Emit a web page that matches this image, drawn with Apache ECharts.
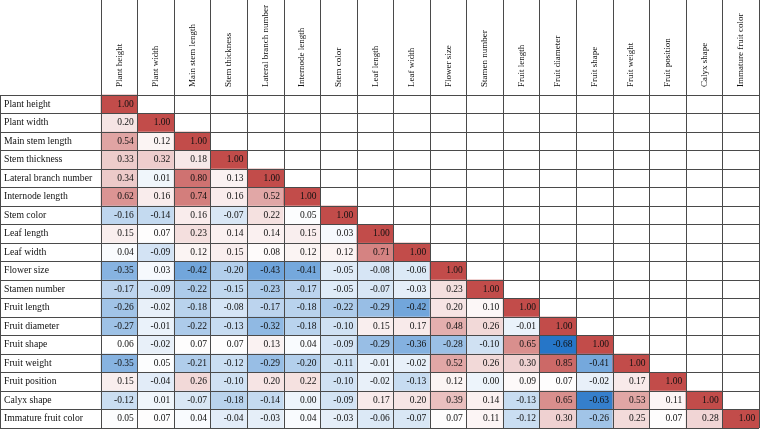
<!DOCTYPE html>
<html><head><meta charset="utf-8">
<script src="https://cdn.jsdelivr.net/npm/echarts@6/dist/echarts.min.js"></script>
<style>html,body{margin:0;padding:0;background:#fff}#c{width:760px;height:429px}</style>
</head><body><div id="c"></div>
<script>
const variables = ['Plant height','Plant width','Main stem length','Stem thickness','Lateral branch number','Internode length','Stem color','Leaf length','Leaf width','Flower size','Stamen number','Fruit length','Fruit diameter','Fruit shape','Fruit weight','Fruit position','Calyx shape','Immature fruit color'];

// lower-triangle rows of the correlation matrix (row i has i+1 values)
const rowPlantHeight = [1.00];
const rowPlantWidth = [0.20, 1.00];
const rowMainStemLength = [0.54, 0.12, 1.00];
const rowStemThickness = [0.33, 0.32, 0.18, 1.00];
const rowLateralBranch = [0.34, 0.01, 0.80, 0.13, 1.00];
const rowInternodeLength = [0.62, 0.16, 0.74, 0.16, 0.52, 1.00];
const rowStemColor = [-0.16, -0.14, 0.16, -0.07, 0.22, 0.05, 1.00];
const rowLeafLength = [0.15, 0.07, 0.23, 0.14, 0.14, 0.15, 0.03, 1.00];
const rowLeafWidth = [0.04, -0.09, 0.12, 0.15, 0.08, 0.12, 0.12, 0.71, 1.00];
const rowFlowerSize = [-0.35, 0.03, -0.42, -0.20, -0.43, -0.41, -0.05, -0.08, -0.06, 1.00];
const rowStamenNumber = [-0.17, -0.09, -0.22, -0.15, -0.23, -0.17, -0.05, -0.07, -0.03, 0.23, 1.00];
const rowFruitLength = [-0.26, -0.02, -0.18, -0.08, -0.17, -0.18, -0.22, -0.29, -0.42, 0.20, 0.10, 1.00];
const rowFruitDiameter = [-0.27, -0.01, -0.22, -0.13, -0.32, -0.18, -0.10, 0.15, 0.17, 0.48, 0.26, -0.01, 1.00];
const rowFruitShape = [0.06, -0.02, 0.07, 0.07, 0.13, 0.04, -0.09, -0.29, -0.36, -0.28, -0.10, 0.65, -0.68, 1.00];
const rowFruitWeight = [-0.35, 0.05, -0.21, -0.12, -0.29, -0.20, -0.11, -0.01, -0.02, 0.52, 0.26, 0.30, 0.85, -0.41, 1.00];
const rowFruitPosition = [0.15, -0.04, 0.26, -0.10, 0.20, 0.22, -0.10, -0.02, -0.13, 0.12, 0.00, 0.09, 0.07, -0.02, 0.17, 1.00];
const rowCalyxShape = [-0.12, 0.01, -0.07, -0.18, -0.14, 0.00, -0.09, 0.17, 0.20, 0.39, 0.14, -0.13, 0.65, -0.63, 0.53, 0.11, 1.00];
const rowImmatureFruitColor = [0.05, 0.07, 0.04, -0.04, -0.03, 0.04, -0.03, -0.06, -0.07, 0.07, 0.11, -0.12, 0.30, -0.26, 0.25, 0.07, 0.28, 1.00];

const rows = [rowPlantHeight,rowPlantWidth,rowMainStemLength,rowStemThickness,rowLateralBranch,rowInternodeLength,rowStemColor,rowLeafLength,rowLeafWidth,rowFlowerSize,rowStamenNumber,rowFruitLength,rowFruitDiameter,rowFruitShape,rowFruitWeight,rowFruitPosition,rowCalyxShape,rowImmatureFruitColor];

// colour scale (3-colour: low blue, mid white, high red)
const LOW = [38, 118, 200], MID = [255, 255, 255], HIGH = [194, 76, 74];
const VMIN = -0.68, VMID = 0.06, VMAX = 1.0;
function colorFor(v) {
  let a, b, t;
  if (v <= VMID) { a = MID; b = LOW; t = (VMID - v) / (VMID - VMIN); }
  else { a = MID; b = HIGH; t = (v - VMID) / (VMAX - VMID); }
  t = Math.max(0, Math.min(1, t));
  const c = a.map((x, k) => Math.round(x + (b[k] - x) * t));
  return 'rgb(' + c.join(',') + ')';
}

const data = [];
rows.forEach((r, i) => r.forEach((v, j) => {
  data.push({ value: [j, i, v], itemStyle: { color: colorFor(v) } });
}));

const LINE = '#4a4a4a';
const FONT = 'Liberation Serif';
const chart = echarts.init(document.getElementById('c'), null, { renderer: 'canvas' });
chart.setOption({
  animation: false,
  backgroundColor: '#fff',
  grid: { left: 101, top: 95, right: 1, bottom: 1, containLabel: false },
  xAxis: {
    type: 'category', data: variables, position: 'top', boundaryGap: true, z: 10,
    axisLine: { show: true, lineStyle: { color: LINE, width: 1 } },
    axisTick: { show: true, interval: 0, alignWithLabel: false, length: 95, lineStyle: { color: LINE, width: 1 } },
    axisLabel: { interval: 0, rotate: -90, margin: 8, fontFamily: FONT, fontSize: 9, color: '#111' },
    splitLine: { show: true, interval: 0, lineStyle: { color: LINE, width: 1 } }
  },
  yAxis: {
    type: 'category', data: variables, inverse: true, boundaryGap: true, z: 10,
    axisLine: { show: true, lineStyle: { color: LINE, width: 1 } },
    axisTick: { show: true, interval: 0, alignWithLabel: false, length: 101, lineStyle: { color: LINE, width: 1 } },
    axisLabel: { interval: 0, align: 'left', margin: 97, fontFamily: FONT, fontSize: 9.7, color: '#111' },
    splitLine: { show: true, interval: 0, lineStyle: { color: LINE, width: 1 } }
  },
  graphic: [{ type: 'line', shape: { x1: 0.5, y1: 95, x2: 0.5, y2: 429 }, style: { stroke: LINE, lineWidth: 1 }, z: 20 }],
  series: [{
    type: 'heatmap', data: data,
    label: {
      show: true, position: 'insideRight', distance: 4,
      fontFamily: FONT, fontSize: 9.5, color: '#111',
      formatter: p => p.value[2].toFixed(2)
    },
    itemStyle: { borderWidth: 0 },
    emphasis: { disabled: true }
  }]
});
</script></body></html>
